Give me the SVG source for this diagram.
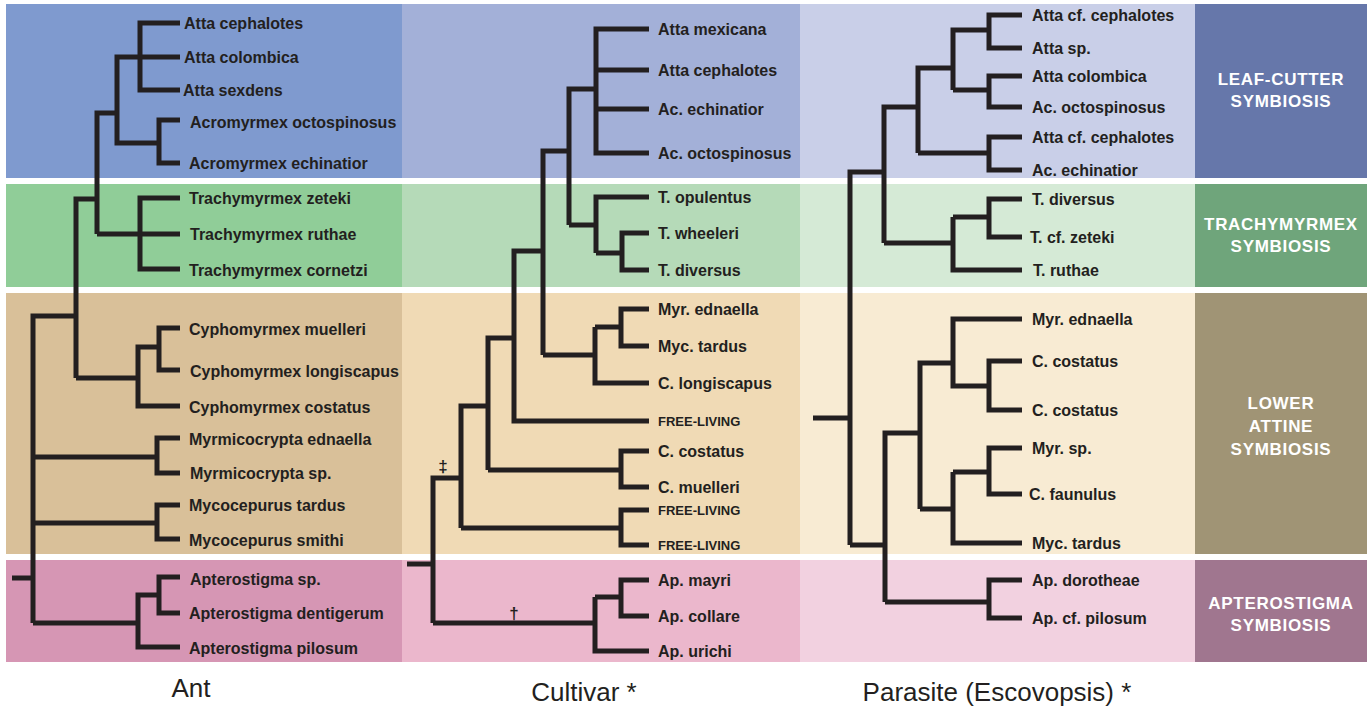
<svg xmlns="http://www.w3.org/2000/svg" width="1369" height="708" viewBox="0 0 1369 708">
<style>
.sp{font-family:"Liberation Sans",Arial,sans-serif;font-weight:bold;font-size:16px;fill:#231f20}
.fl{font-family:"Liberation Sans",Arial,sans-serif;font-weight:bold;font-size:13px;fill:#231f20}
.lb{font-family:"Liberation Sans",Arial,sans-serif;font-weight:bold;font-size:17px;fill:#ffffff;text-anchor:middle;letter-spacing:0.7px}
.tt{font-family:"Liberation Sans",Arial,sans-serif;font-size:26px;fill:#231f20;text-anchor:middle}
.br{fill:none;stroke:#231f20;stroke-width:5;stroke-linejoin:miter;stroke-linecap:butt}
.mk{font-family:"Liberation Sans",Arial,sans-serif;font-weight:bold;font-size:17px;fill:#231f20;text-anchor:middle}
</style>
<rect width="1369" height="708" fill="#ffffff"/>
<g id="bands">
<rect x="6" y="4" width="396" height="174" fill="#7f9acf"/>
<rect x="6" y="184" width="396" height="103" fill="#90cd98"/>
<rect x="6" y="293" width="396" height="261" fill="#d9c099"/>
<rect x="6" y="560" width="396" height="102" fill="#d696b4"/>
<rect x="402" y="4" width="398" height="174" fill="#a3b0d8"/>
<rect x="402" y="184" width="398" height="103" fill="#b5dab8"/>
<rect x="402" y="293" width="398" height="261" fill="#f0dab5"/>
<rect x="402" y="560" width="398" height="102" fill="#ebb7cc"/>
<rect x="800" y="4" width="395" height="174" fill="#c9cfe8"/>
<rect x="800" y="184" width="395" height="103" fill="#d5ead6"/>
<rect x="800" y="293" width="395" height="261" fill="#f8ebd3"/>
<rect x="800" y="560" width="395" height="102" fill="#f2d1e0"/>
</g>
<g id="label-leafcutter">
<rect x="1195" y="4" width="172" height="174" fill="#6677aa"/>
<text class="lb" x="1281" y="85">LEAF-CUTTER</text>
<text class="lb" x="1281" y="107">SYMBIOSIS</text>
</g>
<g id="label-trachymyrmex">
<rect x="1195" y="184" width="172" height="103" fill="#6fa57b"/>
<text class="lb" x="1281" y="230">TRACHYMYRMEX</text>
<text class="lb" x="1281" y="252">SYMBIOSIS</text>
</g>
<g id="label-lower">
<rect x="1195" y="293" width="172" height="261" fill="#a09475"/>
<text class="lb" x="1281" y="409">LOWER</text>
<text class="lb" x="1281" y="432">ATTINE</text>
<text class="lb" x="1281" y="455">SYMBIOSIS</text>
</g>
<g id="label-apterostigma">
<rect x="1195" y="560" width="172" height="102" fill="#a0768f"/>
<text class="lb" x="1281" y="609">APTEROSTIGMA</text>
<text class="lb" x="1281" y="631">SYMBIOSIS</text>
</g>
<g id="connectors">
<path class="br" d="M180 23H140V90H180M117 57H180M180 120H159V163H180M140 57H117V143H159M97 113H117M180 198H140V269H180M97 234H180M117 113H97V234M76 199H97M180 328H159V370H180M159 347H138V406H180M76 378H138M97 199H76V378M33 316H76M180 438H157V473H180M33 457H157M180 505H157V539H180M33 523H157M180 577H159V613H180M159 595H138V647H180M33 623H138M76 316H33V623M12 578H33"/>
<path class="br" d="M649 29H596V153H649M649 70H596M649 109H596M569 89H596M649 233H622V270H649M596 253H622M649 197H596V253M569 225H596M596 89H569V225M543 151H569M649 309H621V346H649M595 327H621M649 383H595V327M543 355H595M569 151H543V355M514 251H543M543 251H514V421H649M488 338H514M649 451H621V487H649M488 470H621M514 338H488V470M461 406H488M649 510H621V545H649M461 528H621M488 406H461V528M433 478H461M649 580H621V616H649M595 597H621M649 651H595V597M433 623H595M461 478H433V623M407 564H433"/>
<path class="br" d="M1022 15H989V48H1022M953 30H989M1022 76H989V107H1022M953 90H989M989 30H953V90M918 68H953M1022 137H989V170H1022M918 153H989M953 68H918V153M884 107H918M1022 199H989V237H1022M953 217H989M1022 270H953V217M884 243H953M918 107H884V243M850 172H884M1022 319H953V386H989M1022 361H989V410H1022M920 363H953M1022 448H989V494H1022M953 472H989M1022 543H953V472M920 509H953M953 363H920V509M885 433H920M1022 580H989V618H1022M885 602H989M920 433H885V602M850 545H885M884 172H850V545M813 418H850"/>
<text class="mk" x="443" y="472">‡</text>
<text class="mk" x="514" y="619">†</text>
</g>
<g id="ant-tips">
<text class="sp" x="184" y="29">Atta cephalotes</text>
<text class="sp" x="184" y="63">Atta colombica</text>
<text class="sp" x="183" y="96">Atta sexdens</text>
<text class="sp" x="190" y="128">Acromyrmex octospinosus</text>
<text class="sp" x="189" y="169">Acromyrmex echinatior</text>
<text class="sp" x="189" y="204">Trachymyrmex zeteki</text>
<text class="sp" x="190" y="240">Trachymyrmex ruthae</text>
<text class="sp" x="189" y="276">Trachymyrmex cornetzi</text>
<text class="sp" x="189" y="335">Cyphomyrmex muelleri</text>
<text class="sp" x="190" y="377">Cyphomyrmex longiscapus</text>
<text class="sp" x="189" y="413">Cyphomyrmex costatus</text>
<text class="sp" x="189" y="445">Myrmicocrypta ednaella</text>
<text class="sp" x="190" y="479">Myrmicocrypta sp.</text>
<text class="sp" x="189" y="511">Mycocepurus tardus</text>
<text class="sp" x="189" y="546">Mycocepurus smithi</text>
<text class="sp" x="190" y="585">Apterostigma sp.</text>
<text class="sp" x="189" y="619">Apterostigma dentigerum</text>
<text class="sp" x="189" y="654">Apterostigma pilosum</text>
</g>
<g id="cultivar-tips">
<text class="sp" x="658" y="35">Atta mexicana</text>
<text class="sp" x="658" y="76">Atta cephalotes</text>
<text class="sp" x="658" y="115">Ac. echinatior</text>
<text class="sp" x="658" y="159">Ac. octospinosus</text>
<text class="sp" x="658" y="203">T. opulentus</text>
<text class="sp" x="658" y="239">T. wheeleri</text>
<text class="sp" x="658" y="276">T. diversus</text>
<text class="sp" x="658" y="315">Myr. ednaella</text>
<text class="sp" x="658" y="352">Myc. tardus</text>
<text class="sp" x="658" y="389">C. longiscapus</text>
<text class="fl" x="658" y="426">FREE-LIVING</text>
<text class="sp" x="658" y="457">C. costatus</text>
<text class="sp" x="658" y="493">C. muelleri</text>
<text class="fl" x="658" y="515">FREE-LIVING</text>
<text class="fl" x="658" y="550">FREE-LIVING</text>
<text class="sp" x="658" y="586">Ap. mayri</text>
<text class="sp" x="658" y="622">Ap. collare</text>
<text class="sp" x="658" y="657">Ap. urichi</text>
</g>
<g id="parasite-tips">
<text class="sp" x="1032" y="21">Atta cf. cephalotes</text>
<text class="sp" x="1032" y="54">Atta sp.</text>
<text class="sp" x="1032" y="82">Atta colombica</text>
<text class="sp" x="1032" y="113">Ac. octospinosus</text>
<text class="sp" x="1032" y="143">Atta cf. cephalotes</text>
<text class="sp" x="1032" y="176">Ac. echinatior</text>
<text class="sp" x="1032" y="205">T. diversus</text>
<text class="sp" x="1030" y="243">T. cf. zeteki</text>
<text class="sp" x="1033" y="276">T. ruthae</text>
<text class="sp" x="1032" y="325">Myr. ednaella</text>
<text class="sp" x="1032" y="367">C. costatus</text>
<text class="sp" x="1032" y="416">C. costatus</text>
<text class="sp" x="1032" y="454">Myr. sp.</text>
<text class="sp" x="1029" y="500">C. faunulus</text>
<text class="sp" x="1032" y="549">Myc. tardus</text>
<text class="sp" x="1032" y="586">Ap. dorotheae</text>
<text class="sp" x="1032" y="624">Ap. cf. pilosum</text>
</g>
<g id="titles">
<text class="tt" x="191" y="697">Ant</text>
<text class="tt" x="584" y="701">Cultivar *</text>
<text class="tt" x="997" y="701">Parasite (Escovopsis) *</text>
</g>
</svg>
